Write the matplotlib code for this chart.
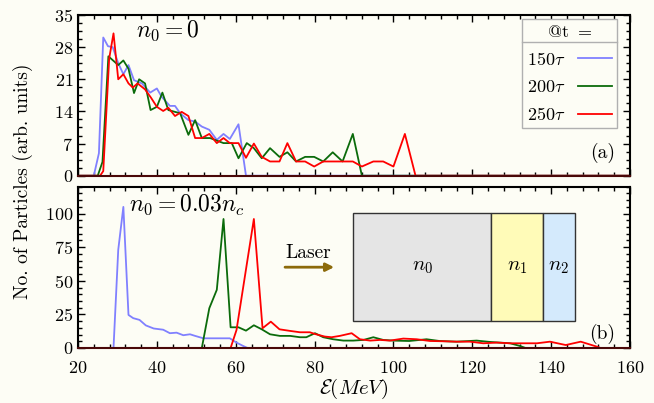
import numpy as np
import matplotlib
matplotlib.use("Agg")
import matplotlib.pyplot as plt
from matplotlib.patches import Rectangle
from matplotlib.ticker import MultipleLocator
from matplotlib.lines import Line2D

plt.rcParams['font.family'] = ['cmr10', 'DejaVu Serif']
plt.rcParams['mathtext.fontset'] = 'cm'
plt.rcParams['axes.formatter.use_mathtext'] = True
plt.rcParams['font.size'] = 13

# ---- panel (a): n0 = 0 ----
e150_a = [20, 24.0, 25.3, 26.4, 27.6, 28.8, 30.2, 31.5, 32.8, 34.2, 36.2, 38.3, 40.0, 41.2, 43.3, 44.6,
          45.9, 48.0, 49.7, 51.4, 53.3, 55.2, 56.9, 58.5, 60.7, 62.6, 160]
n150_a = [0, 0, 4.9, 30.1, 28.2, 28.0, 24.5, 22.1, 24.1, 20.8, 20.1, 18.1, 19.0, 17.2, 15.2, 15.2,
          13.6, 12.1, 11.8, 10.7, 10.0, 7.8, 9.1, 8.0, 11.2, 0, 0]

e200_a = [20, 25.0, 26.2, 27.7, 30.2, 31.5, 32.8, 34.2, 35.5, 37.0, 38.4, 40.0, 41.4, 42.9, 44.6, 45.9,
          48.0, 49.7, 51.4, 53.5, 56.9, 59.0, 60.7, 62.8, 64.6, 66.6, 68.7, 71.1, 73.1, 75.3, 77.6,
          79.9, 82.2, 84.6, 87.1, 89.7, 92.0, 160]
n200_a = [0, 0, 3.0, 26.0, 24.1, 25.1, 23.3, 18.0, 21.0, 20.1, 14.3, 15.0, 18.1, 14.3, 13.9, 13.6,
          8.9, 12.1, 8.2, 8.2, 7.1, 7.1, 3.8, 7.1, 6.0, 3.8, 6.0, 4.1, 5.1, 3.1, 4.1,
          4.1, 3.1, 5.1, 3.1, 9.1, 0, 0]

e250_a = [20, 25.6, 26.4, 27.9, 29.0, 30.2, 31.5, 32.8, 33.9, 35.1, 37.0, 38.5, 40.0, 41.6, 42.9, 44.6,
          46.3, 48.0, 49.7, 51.4, 53.3, 55.2, 56.9, 58.5, 60.7, 62.6, 64.6, 66.6, 68.7, 71.1, 73.1,
          75.3, 77.6, 79.9, 82.2, 84.6, 87.1, 89.7, 92.0, 94.9, 97.4, 100.0, 102.9, 105.6, 160]
n250_a = [0, 0, 1.0, 25.5, 31.0, 21.0, 22.1, 20.1, 19.2, 20.1, 18.8, 17.0, 15.0, 14.1, 14.8, 13.0,
          13.9, 13.0, 8.2, 8.2, 9.1, 7.1, 8.2, 7.1, 7.1, 3.9, 7.0, 4.1, 3.1, 3.1, 7.1,
          3.1, 3.1, 2.0, 3.1, 3.1, 3.1, 3.1, 2.0, 3.1, 3.1, 2.0, 9.1, 0, 0]

# ---- panel (b): n0 = 0.03 nc ----
e150_b = [20, 29.0, 30.2, 31.5, 32.8, 34.0, 35.6, 37.2, 39.2, 41.6, 43.3, 45.0, 46.7, 48.4, 49.7,
          51.8, 55.2, 58.5, 60.2, 61.9, 63.0, 160]
n150_b = [0, 0, 73, 105, 24.6, 22.2, 20.9, 16.8, 14.5, 13.6, 11.0, 11.4, 9.5, 10.2, 9.0,
          7.2, 7.2, 7.2, 4.0, 1.5, 0, 0]

e200_b = [20, 51.4, 53.3, 55.2, 56.9, 58.7, 60.7, 62.6, 64.6, 66.6, 68.7, 71.2, 73.8, 76.3, 77.9,
          80.1, 82.2, 84.7, 87.3, 89.8, 92.4, 94.9, 97.4, 100.0, 104.0, 108.4, 111.7, 116.0, 121.1,
          124.5, 129.6, 132.1, 133.5, 160]
n200_b = [0, 0, 29.6, 43.3, 96, 15.4, 15.4, 12.9, 16.9, 13.9, 10.2, 9.0, 9.0, 8.0, 8.0,
          11.0, 8.0, 6.5, 5.5, 5.5, 6.0, 8.0, 6.0, 5.5, 5.2, 6.5, 5.2, 4.7, 5.5,
          4.5, 3.5, 1.5, 0, 0]

e250_b = [20, 58.7, 60.2, 64.6, 66.8, 68.9, 71.1, 73.8, 76.3, 78.8, 80.1, 82.6, 84.3, 86.4, 89.4,
          91.5, 94.1, 96.6, 99.1, 102.5, 105.9, 109.3, 112.7, 116.0, 119.4, 122.8, 126.2, 129.6,
          133.0, 136.4, 139.7, 143.7, 147.5, 151.6, 152.5, 160]
n250_b = [0, 0, 13.4, 96, 14.7, 19.6, 13.9, 12.7, 11.7, 11.7, 10.4, 8.5, 8.0, 9.0, 11.0,
          6.5, 5.5, 6.0, 5.5, 7.0, 6.5, 5.2, 5.0, 4.7, 4.7, 3.5, 4.0, 3.5,
          3.5, 3.5, 4.7, 2.2, 4.7, 1.0, 0, 0]

labels = [r'$150\tau$', r'$200\tau$', r'$250\tau$']
colors = ['#8080ff', '#0b6b0b', '#ff0000']

bg = '#fdfdf5'
fig = plt.figure(figsize=(6.54, 4.03), dpi=100, facecolor=bg)
ax1 = fig.add_axes([0.1193, 0.564, 0.844, 0.3988], facecolor=bg)
ax2 = fig.add_axes([0.1193, 0.1365, 0.844, 0.4002], facecolor=bg)

for e, n, c, lab in zip([e150_a, e200_a, e250_a], [n150_a, n200_a, n250_a], colors, labels):
    ax1.plot(e, n, color=c, lw=1.3, label=lab)
for e, n, c in zip([e150_b, e200_b, e250_b], [n150_b, n200_b, n250_b], colors):
    ax2.plot(e, n, color=c, lw=1.3)

ax1.set_ylim(0, 35)
ax2.set_ylim(0, 120)
for ax in (ax1, ax2):
    ax.set_xlim(20, 160)
    ax.xaxis.set_major_locator(MultipleLocator(20))
    ax.xaxis.set_minor_locator(MultipleLocator(4))
    ax.tick_params(which='both', direction='in', top=True, right=True, width=1.0)
    ax.tick_params(which='major', length=5)
    ax.tick_params(which='minor', length=3)
    ax.tick_params(axis='x', pad=9)
    for s in ax.spines.values():
        s.set_linewidth(1.5)
    ax.spines['bottom'].set_color('#4a0808')

ax1.yaxis.set_major_locator(MultipleLocator(7))
ax1.yaxis.set_minor_locator(MultipleLocator(1.75))
ax1.set_xticklabels([])
ax2.yaxis.set_major_locator(MultipleLocator(25))
ax2.yaxis.set_minor_locator(MultipleLocator(5))

ax1.text(0.105, 0.9, r'$n_0 = 0$', transform=ax1.transAxes, fontsize=17, va='center')
ax1.text(0.973, 0.14, '(a)', transform=ax1.transAxes, fontsize=14, ha='right', va='center')
ax2.text(0.092, 0.885, r'$n_0 = 0.03n_c$', transform=ax2.transAxes, fontsize=17, va='center')
ax2.text(0.973, 0.09, '(b)', transform=ax2.transAxes, fontsize=14, ha='right', va='center')

leg = ax1.legend(loc='upper right', bbox_to_anchor=(0.976, 0.975), title=r'@t $=$',
                 markerfirst=False, frameon=True, fancybox=False, edgecolor='#b0b0b0',
                 facecolor=bg, framealpha=1, fontsize=13, title_fontsize=13,
                 handlelength=1.9, handletextpad=0.7, borderpad=0.25, labelspacing=0.62,
                 borderaxespad=0)
leg.get_frame().set_linewidth(1.0)

# inset: density profile diagram
boxes = [(0.499, 0.749, '#e5e5e5', r'$n_0$'), (0.749, 0.842, '#fffbb8', r'$n_1$'),
         (0.842, 0.900, '#d4eafc', r'$n_2$')]
for x0, x1, fc, txt in boxes:
    ax2.add_patch(Rectangle((x0, 0.167), x1 - x0, 0.668, transform=ax2.transAxes,
                            facecolor=fc, edgecolor='#333333', lw=1.0, zorder=3))
    ax2.text((x0 + x1) / 2, 0.50, txt, transform=ax2.transAxes, ha='center', va='center',
             fontsize=15, zorder=4)
ax2.annotate('', xy=(0.469, 0.501), xytext=(0.37, 0.501), xycoords='axes fraction',
             arrowprops=dict(arrowstyle='-|>', color='#8c6a0a', lw=2, mutation_scale=12))
ax2.text(0.417, 0.59, 'Laser', transform=ax2.transAxes, ha='center', va='center', fontsize=14)

fig.text(0.035, 0.55, 'No. of Particles (arb. units)', rotation=90, ha='center', va='center',
         fontsize=14)
ax2.set_xlabel(r'$\mathcal{E}(MeV)$', fontsize=15, labelpad=0)

# separator line under the legend title
fig.canvas.draw()
lb = leg.get_window_extent()
tb = leg.get_title().get_window_extent()
ysep = tb.y0 - 2
inv = fig.transFigure.inverted()
(xa, ya), (xb, _) = inv.transform([(lb.x0, ysep), (lb.x1, ysep)])
fig.add_artist(Line2D([xa, xb], [ya, ya], transform=fig.transFigure, color='#b0b0b0', lw=1.0))

fig.savefig('out.png', dpi=100, facecolor=bg)
